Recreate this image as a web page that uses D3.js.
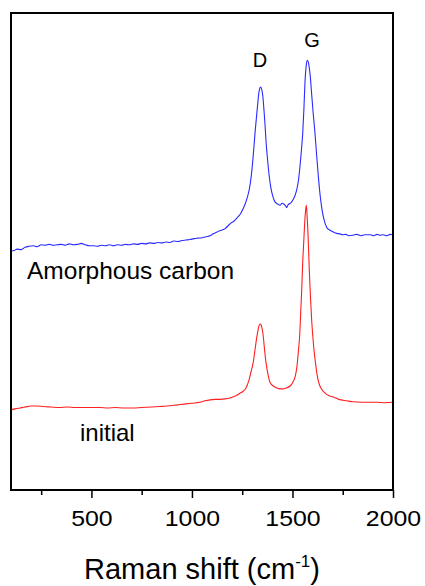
<!DOCTYPE html>
<html>
<head>
<meta charset="utf-8">
<script src="https://cdn.jsdelivr.net/npm/d3@7"></script>
<style>
  body { margin: 0; background: #fff; }
  svg { display: block; font-family: Arial, "Liberation Sans", sans-serif; }
</style>
</head>
<body>
<div id="chart"></div>
<script>
// Raman spectra (intensity in arbitrary units)
var amorphousShift = [100,115,130,150,170,190,210,230,250,270,290,310,330,350,370,390,410,430,450,470,490,510,530,550,570,590,610,630,650,670,690,710,730,750,770,790,810,830,850,870,890,910,930,950,970,990,1010,1030,1050,1070,1090,1105,1120,1135,1150,1165,1180,1195,1210,1225,1240,1255,1265,1275,1285,1295,1305,1315,1325,1333,1338,1342,1347,1352,1358,1363,1369,1375,1383,1392,1402,1413,1425,1438,1448,1458,1465,1471,1478,1486,1496,1505,1514,1521,1530,1537,1545,1551,1557,1562,1568,1573,1578,1583,1589,1595,1603,1612,1620,1629,1637,1645,1655,1670,1685,1703,1720,1736,1750,1765,1780,1801,1820,1840,1860,1886,1905,1920,1935,1950,1970,1985,2000];
var amorphousIntensity = [50.1,50.2,50.5,50.4,50.9,51.1,51.2,51.0,51.4,51.3,51.5,51.3,51.4,51.5,51.3,51.6,51.4,51.5,51.7,51.4,51.2,51.2,51.1,51.3,51.2,51.4,51.2,51.4,51.3,51.5,51.4,51.6,51.5,51.7,51.6,51.8,51.7,51.9,51.8,52.0,51.9,52.2,52.1,52.3,52.4,52.5,52.7,52.8,52.9,53.1,53.3,53.7,54.0,54.3,54.5,54.8,55.4,56.0,56.4,57.1,57.8,59.0,60.0,61.3,63.0,65.8,70.2,75.5,80.0,83.3,84.3,84.5,84.0,82.8,79.8,76.9,72.8,69.8,66.3,63.5,61.6,60.4,60.0,59.7,60.1,59.9,59.6,59.2,59.8,60.0,60.4,61.0,61.9,62.9,65.0,67.7,71.5,74.8,80.0,85.3,88.8,90.1,89.8,88.7,86.5,83.2,79.0,74.8,70.3,65.6,62.0,59.3,57.0,55.1,54.5,54.1,53.8,53.7,53.5,53.6,53.3,53.4,53.6,53.3,53.5,53.5,53.3,53.6,53.4,53.5,53.3,53.6,53.5];

var initialShift = [100,120,145,170,200,229,260,300,340,379,420,460,500,543,580,620,660,707,750,800,840,876,920,960,1000,1040,1065,1090,1115,1140,1165,1189,1210,1225,1239,1255,1269,1284,1295,1305,1314,1322,1331,1336,1340,1344,1347,1354,1361,1368,1378,1388,1405,1422,1438,1454,1470,1488,1502,1513,1522,1529,1536,1541,1546,1551,1556,1561,1565,1569,1572,1576,1580,1584,1590,1596,1605,1614,1622,1630,1645,1662,1680,1703,1730,1771,1800,1840,1886,1920,1960,2000];
var initialIntensity = [16.8,17.0,17.2,17.4,17.6,17.6,17.5,17.4,17.3,17.4,17.3,17.3,17.3,17.3,17.2,17.3,17.2,17.2,17.3,17.4,17.5,17.6,17.8,18.0,18.2,18.4,18.7,18.9,19.0,19.0,19.1,19.3,19.6,19.9,20.3,20.7,21.4,23.1,25.0,26.8,29.5,31.9,34.0,34.7,34.8,34.6,34.2,32.5,29.5,26.8,24.3,22.6,21.8,21.4,21.2,21.2,21.4,21.8,22.6,23.7,25.8,28.9,32.5,37.3,42.0,47.8,52.0,56.2,58.5,59.7,58.0,54.9,50.5,45.7,40.0,35.2,30.3,26.8,24.3,22.6,21.1,20.3,19.8,19.5,19.0,18.7,18.5,18.4,18.4,18.4,18.3,18.4];

var majorTicks = [500, 1000, 1500, 2000];
var minorTicks = [250, 750, 1250, 1750];

var width = 425, height = 586;
var plotLeft = 11, plotRight = 393, plotTop = 13, plotBottom = 490;

var svg = d3.select("#chart").append("svg")
            .attr("width", width)
            .attr("height", height);

var x = d3.scaleLinear().domain([100, 2000]).range([plotLeft, plotRight]);
var y = d3.scaleLinear().domain([0, 100]).range([plotBottom, plotTop]);

svg.append("clipPath")
   .attr("id", "plotclip")
   .append("rect")
   .attr("x", plotLeft)
   .attr("y", plotTop)
   .attr("width", plotRight - plotLeft)
   .attr("height", plotBottom - plotTop);

var line = d3.line()
             .x(function(d) { return x(d[0]); })
             .y(function(d) { return y(d[1]); })
             .curve(d3.curveMonotoneX);

var series = [
    {shift: initialShift, intensity: initialIntensity, color: "#ff1f1f"},
    {shift: amorphousShift, intensity: amorphousIntensity, color: "#2b2bff"}
];

series.forEach(function(s) {
    svg.append("path")
       .datum(d3.zip(s.shift, s.intensity))
       .attr("clip-path", "url(#plotclip)")
       .attr("fill", "none")
       .attr("stroke", s.color)
       .attr("stroke-width", 1.1)
       .attr("d", line);
});

// minor ticks
var minorAxis = svg.append("g")
    .attr("transform", "translate(0," + plotBottom + ")")
    .call(d3.axisBottom(x).tickValues(minorTicks).tickSize(5).tickFormat(""));
minorAxis.select(".domain").remove();
minorAxis.selectAll("line").attr("stroke", "#000").attr("stroke-width", 1.5);

// major ticks and labels
var majorAxis = svg.append("g")
    .attr("transform", "translate(0," + plotBottom + ")")
    .call(d3.axisBottom(x).tickValues(majorTicks).tickSize(8).tickPadding(12).tickFormat(d3.format("d")));
majorAxis.select(".domain").remove();
majorAxis.selectAll("line").attr("stroke", "#000").attr("stroke-width", 1.5);
majorAxis.selectAll("text")
         .attr("fill", "#000")
         .style("font-size", "22px")
         .attr("transform", "scale(1.13,1)");

// plot frame
svg.append("rect")
   .attr("x", plotLeft)
   .attr("y", plotTop)
   .attr("width", plotRight - plotLeft)
   .attr("height", plotBottom - plotTop)
   .attr("fill", "none")
   .attr("stroke", "#000")
   .attr("stroke-width", 2);

// axis title
var title = svg.append("text")
   .attr("x", 202)
   .attr("y", 579)
   .attr("text-anchor", "middle")
   .style("font-size", "29px")
   .attr("fill", "#000");
title.append("tspan").text("Raman shift (cm");
title.append("tspan").attr("dy", -12).style("font-size", "17px").text("-1");
title.append("tspan").attr("dy", 12).text(")");

// annotations
var labels = [
    {text: "D", x: 260, y: 67, size: 20, anchor: "middle"},
    {text: "G", x: 312, y: 47, size: 20, anchor: "middle"},
    {text: "Amorphous carbon", x: 27, y: 279, size: 24.5, anchor: "start"},
    {text: "initial", x: 80, y: 441, size: 24, anchor: "start"}
];

svg.selectAll(".note")
   .data(labels)
   .enter()
   .append("text")
   .attr("class", "note")
   .attr("x", function(d) { return d.x; })
   .attr("y", function(d) { return d.y; })
   .attr("text-anchor", function(d) { return d.anchor; })
   .style("font-size", function(d) { return d.size + "px"; })
   .attr("fill", "#000")
   .text(function(d) { return d.text; });
</script>
</body>
</html>
